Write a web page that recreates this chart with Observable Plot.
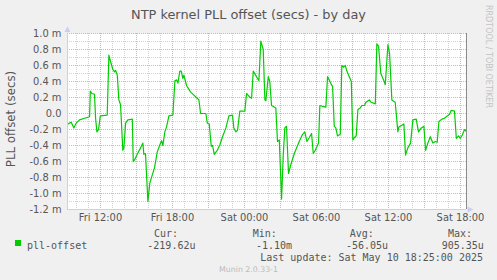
<!DOCTYPE html>
<html><head><meta charset="utf-8">
<script src="https://cdn.jsdelivr.net/npm/d3@7"></script>
<script src="https://cdn.jsdelivr.net/npm/@observablehq/plot@0.6"></script>
<style>
html,body{margin:0;padding:0;background:#f0f0f0;}
#chart{width:497px;height:280px;overflow:hidden;}
svg{display:block;}
</style></head><body><div id="chart"></div>
<script>
// hours since Fri 2025-05-09 00:00
const hours = [9.28,9.56,9.78,9.98,10.25,10.67,11.09,11.15,11.28,11.50,11.59,11.70,11.84,11.98,12.56,12.70,12.84,13.03,13.17,13.25,13.40,13.53,13.67,13.86,13.95,14.09,14.28,14.65,14.73,14.84,15.06,15.34,15.53,15.61,15.75,15.95,16.11,16.31,16.50,16.73,16.95,17.09,17.20,17.36,17.50,17.70,18.03,18.20,18.34,18.45,18.61,18.73,18.86,18.95,19.17,19.50,19.78,20.06,20.20,20.34,20.78,20.90,21.06,21.23,21.34,21.48,21.73,21.95,22.17,22.45,22.70,23.00,23.11,23.28,23.42,23.61,24.03,24.17,24.40,24.59,24.73,25.00,25.20,25.36,25.56,25.70,25.78,25.98,26.11,26.25,26.61,26.75,26.90,27.09,27.23,27.36,27.50,27.67,27.86,28.15,28.56,28.84,29.03,29.20,29.40,29.59,29.73,29.90,30.17,30.28,30.50,30.78,30.92,31.06,31.28,31.34,31.48,31.61,31.75,31.98,32.11,32.25,32.40,32.53,32.90,33.03,33.17,33.31,33.45,33.65,33.78,34.00,34.11,34.40,34.56,34.90,35.03,35.17,35.36,35.59,35.73,35.95,36.09,36.28,36.56,36.78,36.86,37.28,37.42,37.61,37.84,38.03,38.31,38.50,38.73,38.95,39.09,39.28,39.48,39.70,39.90,40.06,40.20,40.45,40.67,40.90,41.09,41.23,41.50,41.65,41.84,41.98,42.15,42.34,42.45];
// PLL offset in milliseconds
const offsetMs = [-0.13,-0.11,-0.18,-0.12,-0.08,-0.06,-0.04,0.28,0.25,0.24,-0.06,-0.23,-0.20,-0.03,-0.02,0.73,0.65,0.55,0.52,0.54,0.48,0.17,0.11,-0.46,-0.43,-0.12,-0.08,-0.07,-0.60,-0.58,-0.51,-0.43,-0.37,-0.51,-0.50,-1.10,-0.87,-0.77,-0.68,-0.48,-0.39,-0.34,-0.40,-0.23,-0.17,-0.03,-0.02,0.41,0.42,0.38,0.53,0.53,0.44,0.48,0.35,0.27,0.23,0.19,0.17,0.00,0.00,-0.12,-0.13,-0.41,-0.40,-0.51,-0.46,-0.39,-0.29,-0.18,-0.03,-0.02,-0.18,-0.23,-0.21,0.03,0.03,0.25,0.21,0.19,0.53,0.46,0.41,0.905,0.80,0.17,0.16,0.46,0.40,0.10,0.07,-0.35,-0.33,-1.07,-0.52,-0.18,-0.16,-0.75,-0.64,-0.50,-0.35,-0.26,-0.23,-0.35,-0.30,-0.25,-0.50,-0.46,-0.37,0.10,0.09,0.08,0.46,0.42,0.35,0.34,-0.16,-0.18,-0.28,-0.26,0.60,0.58,0.60,0.53,0.40,-0.33,-0.30,-0.28,0.05,0.07,0.10,0.10,0.14,0.17,0.14,0.12,0.87,0.84,0.50,0.42,0.36,0.86,0.75,0.17,0.14,-0.23,-0.17,-0.13,-0.52,-0.43,-0.37,-0.08,-0.07,-0.23,-0.18,-0.16,-0.46,-0.37,-0.29,-0.37,-0.35,-0.36,-0.10,-0.07,-0.06,-0.03,-0.01,0.04,0.03,-0.31,-0.28,-0.31,-0.27,-0.20,-0.22];
const yTicks = [-1.2,-1.0,-0.8,-0.6,-0.4,-0.2,0,0.2,0.4,0.6,0.8,1.0];
const yMinor = [-1.1,-0.9,-0.7,-0.5,-0.3,-0.1,0.1,0.3,0.5,0.7,0.9];
const titleText = "NTP kernel PLL offset (secs) - by day";
const yLabel = "PLL offset (secs)";
const seriesName = "pll-offset";
const statNames = ["Cur:", "Min:", "Avg:", "Max:"];
const statValues = ["-219.62u", "-1.10m", "-56.05u", "905.35u"];
const lastUpdate = "Last update: Sat May 10 18:25:00 2025";
const watermark = "Munin 2.0.33-1";
const sideText = "RRDTOOL / TOBI OETIKER";

const t0 = Date.UTC(2025, 4, 9);
const H = 3600e3;
const data = hours.map((h, i) => ({t: new Date(t0 + h * H), v: offsetMs[i]}));
const xStart = new Date(t0 + 9.25 * H), xEnd = new Date(t0 + 42.5 * H);
const fmt = d3.utcFormat("%a %H:%M");
const yFmt = v => Math.abs(v) < 1e-9 ? "0.0" : v.toFixed(1) + " m";
const GREEN = "#00cc00", MINOR = "#d2d2d2", MAJOR = "#f4a6a6", AXIS = "#c9cff4", TXT = "#555";

const chart = Plot.plot({
  width: 497, height: 280,
  marginTop: 33, marginRight: 31, marginBottom: 71, marginLeft: 67,
  style: {background: "transparent", fontFamily: "'DejaVu Sans', sans-serif", fontSize: "9.9px", color: TXT, overflow: "visible"},
  x: {type: "utc", domain: [xStart, xEnd], ticks: d3.utcHour.every(6).range(xStart, xEnd), tickFormat: fmt, tickSize: 0, tickPadding: 4, label: null},
  y: {domain: [-1.2, 1.0], ticks: yTicks, tickFormat: yFmt, tickSize: 0, tickPadding: 6, label: null},
  marks: [
    Plot.frame({fill: "white", stroke: "none"}),
    Plot.ruleX(d3.utcHour.range(xStart, xEnd), {stroke: MINOR, strokeDasharray: "1,1"}),
    Plot.ruleY(yMinor, {stroke: MINOR, strokeDasharray: "1,1"}),
    Plot.ruleX(d3.utcHour.every(3).range(xStart, xEnd), {stroke: MAJOR, strokeDasharray: "1,1"}),
    Plot.ruleY(yTicks, {stroke: MAJOR, strokeDasharray: "1,1"}),
    Plot.line(data, {x: "t", y: "v", stroke: GREEN, strokeWidth: 1.2}),
    Plot.ruleX([xStart], {stroke: AXIS}),
    Plot.ruleY([-1.2], {stroke: AXIS}),
    Plot.ruleX([xEnd], {stroke: "#8c8c8c"})
  ]
});
document.getElementById("chart").appendChild(chart);

const svg = d3.select(chart);
const sx = chart.scale("x"), sy = chart.scale("y");
const xL = sx.apply(xStart) + 0.5, xR = sx.apply(xEnd) + 0.5;
const yT = sy.apply(1.0) + 0.5, yB = sy.apply(-1.2) + 0.5;

// axis arrows
svg.append("line").attr("x1", xL).attr("x2", xL).attr("y1", yT).attr("y2", yT - 1).attr("stroke", AXIS);
svg.append("path").attr("d", `M${xL},${yT - 7}L${xL - 3},${yT - 1.5}L${xL + 3},${yT - 1.5}Z`).attr("fill", AXIS);
svg.append("path").attr("d", `M${xR + 7},${yB}L${xR + 1},${yB - 3}L${xR + 1},${yB + 3}Z`).attr("fill", AXIS);

const addText = (x, y, txt, opts) => {
  const t = svg.append("text").attr("x", x).attr("y", y)
    .attr("text-anchor", opts.anchor || "start")
    .attr("font-family", opts.family || "'DejaVu Sans', sans-serif")
    .attr("font-size", opts.size || "10px")
    .attr("fill", opts.fill || TXT)
    .style("white-space", "pre")
    .text(txt);
  if (opts.transform) t.attr("x", null).attr("y", null).attr("transform", opts.transform);
  return t;
};

addText(248.5, 18.5, titleText, {anchor: "middle", size: "12.9px"});
addText(0, 0, yLabel, {anchor: "middle", size: "11.8px", transform: "translate(15,119) rotate(-90)"});
addText(0, 0, sideText, {anchor: "start", size: "8px", fill: "#c4c4c4", transform: "translate(486,5) rotate(90)"});

// legend
const mono = "'DejaVu Sans Mono', monospace";
svg.append("rect").attr("x", 15).attr("y", 240).attr("width", 6).attr("height", 6).attr("fill", GREEN);
addText(27, 249, seriesName, {family: mono});
const nameX = [154, 252.7, 349.7, 448];
const valX = [147.3, 256, 346, 441.7];
statNames.forEach((s, i) => addText(nameX[i], 237.3, s, {family: mono}));
statValues.forEach((s, i) => addText(valX[i], 249, s, {family: mono}));
addText(483, 260.8, lastUpdate, {family: mono, anchor: "end"});
addText(248.5, 271.5, watermark, {anchor: "middle", size: "7.8px", fill: "#bbbbbb"});
</script></body></html>
